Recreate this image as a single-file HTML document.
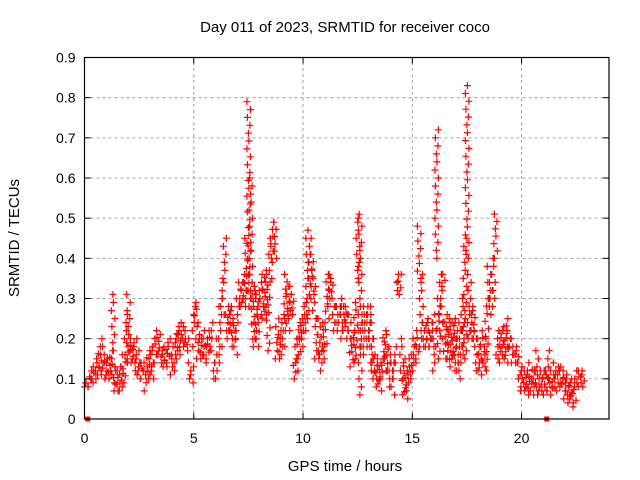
<!DOCTYPE html>
<html><head><meta charset="utf-8"><style>
body{margin:0;background:#fff}
svg{display:block;font-family:"Liberation Sans",sans-serif}
</style></head><body>
<svg id="chart" width="640" height="480" viewBox="0 0 640 480">
<rect width="640" height="480" fill="#fff"/>
<text x="345" y="32" font-size="15" text-anchor="middle">Day 011 of 2023, SRMTID for receiver coco</text>
<text x="345" y="471" font-size="15" text-anchor="middle">GPS time / hours</text>
<text transform="translate(19,238) rotate(-90)" font-size="15" text-anchor="middle">SRMTID / TECUs</text>
<g id="grid"></g>
<g id="marks"></g>
<g id="axes"></g>
</svg>
<script>
const xTicks=[0,5,10,15,20];
const yTicks=[0,0.1,0.2,0.3,0.4,0.5,0.6,0.7,0.8,0.9];
const yTickLabels=["0","0.1","0.2","0.3","0.4","0.5","0.6","0.7","0.8","0.9"];
const t0=0, dt=0.1;
const lo=[.08,.08,.08,.09,.10,.10,.11,.11,.12,.11,
.10,.10,.12,.09,.07,.07,.07,.08,.09,.14,
.15,.15,.14,.12,.11,.10,.10,.11,.07,.10,
.11,.10,.14,.17,.16,.14,.13,.13,.14,.16,
.11,.12,.15,.16,.18,.19,.18,.17,.10,.09,
.18,.24,.15,.15,.16,.14,.15,.17,.18,.10,
.10,.14,.16,.26,.35,.20,.22,.20,.18,.16,
.22,.28,.29,.28,.30,.30,.28,.18,.20,.18,
.24,.28,.25,.26,.17,.35,.40,.40,.15,.15,
.16,.18,.25,.22,.25,.26,.10,.12,.15,.18,
.20,.22,.25,.33,.30,.25,.15,.15,.12,.15,
.17,.25,.28,.30,.22,.22,.24,.22,.20,.23,
.20,.20,.13,.15,.14,.35,.06,.16,.18,.20,
.18,.12,.10,.10,.08,.07,.10,.15,.12,.10,
.08,.06,.12,.32,.31,.10,.06,.05,.07,.10,
.12,.14,.15,.35,.18,.18,.18,.18,.18,.18,
.12,.40,.15,.20,.33,.15,.15,.13,.15,.14,
.12,.10,.12,.16,.15,.40,.20,.20,.20,.12,
.12,.11,.15,.12,.13,.28,.26,.30,.40,.14,
.15,.16,.15,.14,.18,.16,.14,.14,.14,.08,
.07,.08,.07,.06,.07,.08,.06,.07,.06,.07,
.06,.07,.07,.08,.06,.08,.07,.09,.08,.07,
.05,.04,.05,.04,.03,.08,.09,.09,.08];
const hi=[.09,.09,.10,.12,.13,.14,.15,.18,.20,.16,
.14,.15,.17,.31,.12,.12,.13,.13,.16,.26,
.31,.20,.19,.20,.17,.14,.14,.14,.13,.17,
.17,.18,.20,.22,.21,.17,.16,.18,.19,.20,
.15,.20,.21,.23,.24,.23,.22,.20,.14,.13,
.28,.29,.23,.20,.22,.20,.20,.22,.24,.14,
.14,.20,.30,.34,.45,.28,.27,.28,.25,.22,
.30,.34,.34,.36,.45,.79,.60,.33,.32,.31,
.32,.34,.36,.37,.36,.45,.49,.49,.25,.22,
.22,.26,.36,.33,.33,.31,.15,.20,.24,.25,
.26,.30,.47,.45,.41,.35,.25,.25,.18,.24,
.24,.36,.36,.35,.30,.28,.28,.30,.28,.28,
.28,.26,.20,.22,.29,.51,.50,.28,.26,.28,
.28,.26,.20,.15,.15,.14,.15,.22,.21,.18,
.16,.14,.18,.36,.36,.20,.15,.12,.13,.15,
.18,.20,.22,.48,.36,.24,.24,.25,.22,.24,
.26,.72,.30,.36,.36,.26,.25,.24,.24,.25,
.24,.22,.24,.30,.45,.83,.36,.28,.27,.22,
.20,.18,.22,.20,.30,.38,.36,.40,.51,.22,
.22,.23,.22,.25,.22,.20,.18,.18,.17,.14,
.13,.12,.12,.11,.14,.12,.12,.17,.12,.12,
.12,.12,.17,.12,.11,.14,.13,.13,.12,.12,
.11,.10,.10,.09,.08,.12,.12,.12,.11];
const zeroT=[0.15,21.15];
const zeroV=[0,0];
const X0=84.5,X1=609,Y0=419,Y1=57.5,XMAX=24,YMAX=0.9;
function sx(h){return X0+(X1-X0)*h/XMAX;}
function sy(v){return Y0-(Y0-Y1)*v/YMAX;}
const NS="http://www.w3.org/2000/svg";
function mk(tag,attrs,parent){const e=document.createElementNS(NS,tag);for(const k in attrs)e.setAttribute(k,attrs[k]);parent.appendChild(e);return e;}
const grid=document.getElementById('grid'),axes=document.getElementById('axes'),marks=document.getElementById('marks');
yTicks.forEach((v,i)=>{
  const y=sy(v);
  if(i>0&&i<yTicks.length-1){const g=mk('line',{x1:X0,x2:X1,y1:y,y2:y,stroke:'#a0a0a0','stroke-dasharray':'3,3','stroke-width':1},grid);
  
  }
  const t=mk('line',{x1:X0,x2:X0+6,y1:y,y2:y,stroke:'#000'},axes);
  
  
  const t2=mk('line',{x1:X1-6,x2:X1,y1:y,y2:y,stroke:'#000'},axes);
  
  
  const l=mk('text',{x:X0-9,y:y+5,'font-size':14,'text-anchor':'end'},axes);l.textContent=yTickLabels[i];
  
  
});
xTicks.forEach(h=>{
  const x=sx(h);
  if(h>0){const g=mk('line',{x1:x,x2:x,y1:Y0,y2:Y1,stroke:'#a0a0a0','stroke-dasharray':'3,3','stroke-width':1},grid);
  
  }
  const t=mk('line',{x1:x,x2:x,y1:Y0,y2:Y0-6,stroke:'#000'},axes);
  
  
  const t2=mk('line',{x1:x,x2:x,y1:Y1,y2:Y1+6,stroke:'#000'},axes);
  
  
  const l=mk('text',{x:x,y:443,'font-size':14,'text-anchor':'middle'},axes);l.textContent=String(h);
  
  
});
const fr=mk('rect',{x:X0,y:Y1,width:X1-X0,height:Y0-Y1,fill:'none',stroke:'#000','stroke-width':1.2},axes);


let d='';
function plus(x,y){d+=`M${(x-3.5).toFixed(1)} ${y.toFixed(1)}h7M${x.toFixed(1)} ${(y-3.5).toFixed(1)}v7`;}
const jit=[0,1.5,-1,2,-1.5,0.5];
lo.forEach((a,i)=>{
  const b=hi[i],x=sx(t0+i*dt);
  const ya=sy(a),yb=sy(b);
  const n=Math.max(2,Math.round((ya-yb)/8)+1);
  for(let k=0;k<n;k++){plus(x+jit[(k+i)%jit.length],ya+(yb-ya)*k/(n-1));}
});
const p=mk('path',{d:d,stroke:'#ff0000','stroke-width':1.2,fill:'none'},marks);


zeroT.forEach((h,i)=>{
  const s=mk('rect',{x:sx(h)-2.5,y:sy(zeroV[i])-2.5,width:5,height:5,fill:'#ff0000'},marks);
  
  
});
</script>
</body></html>
